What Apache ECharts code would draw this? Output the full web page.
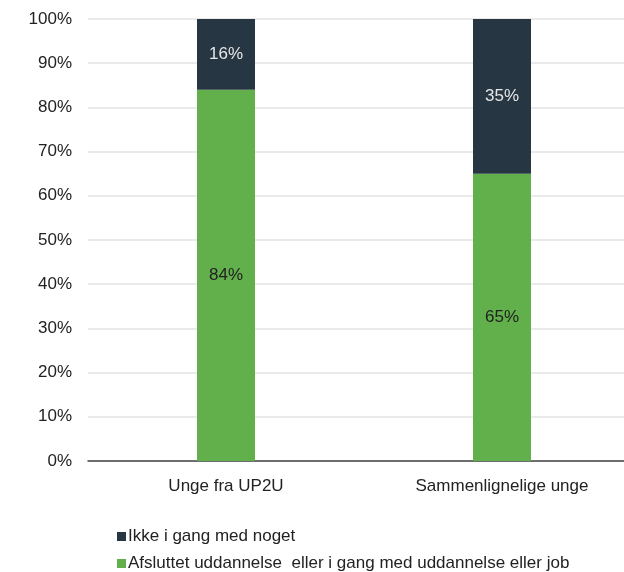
<!DOCTYPE html>
<html><head><meta charset="utf-8">
<script src="https://cdn.jsdelivr.net/npm/echarts@6/dist/echarts.min.js"></script>
<style>html,body{margin:0;padding:0;background:#fff}#c{width:624px;height:572px}</style>
</head><body><div id="c"></div>
<script>
const categories = ["Unge fra UP2U", "Sammenlignelige unge"];
const seriesNames = ["Ikke i gang med noget", "Afsluttet uddannelse  eller i gang med uddannelse eller job"];
const greenValues = [84, 65];
const darkValues = [16, 35];

const font = "Liberation Sans";
const legendText = { fontSize: 17, color: '#222', fontFamily: font, padding: [0,0,0,-3] };
const chart = echarts.init(document.getElementById('c'));
chart.setOption({
  animation: false,
  textStyle: { fontFamily: font },
  grid: { left: 88, width: 552, top: 19, bottom: 111, containLabel: false, outerBoundsMode: 'none' },
  legend: [
    { left: 112, top: 523, itemWidth: 9, itemHeight: 9, icon: 'rect',
      data: [seriesNames[0]], textStyle: legendText },
    { left: 112, top: 550, itemWidth: 9, itemHeight: 9, icon: 'rect',
      data: [seriesNames[1]], textStyle: legendText }
  ],
  xAxis: {
    type: 'category', data: categories,
    axisTick: { show: false },
    axisLine: { lineStyle: { color: '#444', width: 1.5 } },
    axisLabel: { fontSize: 17, color: '#222', margin: 17, fontFamily: font }
  },
  yAxis: {
    type: 'value', min: 0, max: 100, interval: 10,
    axisLabel: { formatter: '{value}%', fontSize: 17, color: '#222', margin: 16, fontFamily: font },
    splitLine: { lineStyle: { color: '#e3e3e3', width: 1.5 } },
    axisLine: { show: false }, axisTick: { show: false }
  },
  series: [
    { name: seriesNames[1], type: 'bar', stack: 's', barWidth: 58, data: greenValues,
      itemStyle: { color: '#62b04b' },
      label: { show: true, position: 'inside', formatter: '{c}%', fontSize: 17, color: '#222', fontFamily: font } },
    { name: seriesNames[0], type: 'bar', stack: 's', barWidth: 58, data: darkValues,
      itemStyle: { color: '#263743' },
      label: { show: true, position: 'inside', formatter: '{c}%', fontSize: 17, color: '#e6e6e6', fontFamily: font } }
  ]
});
</script></body></html>
